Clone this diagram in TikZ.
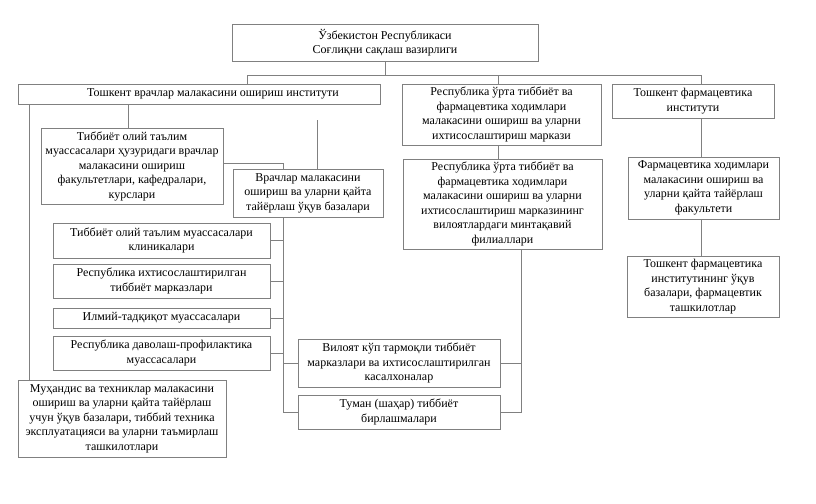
\documentclass[tikz,border=0pt]{standalone}
\usepackage{fontspec}
\setmainfont{Liberation Serif}
\begin{document}
\begin{tikzpicture}[x=1pt,y=-1pt,
  box/.style={draw=black!50, line width=0.9pt, fill=white, inner sep=0pt, align=center,
    font=\fontsize{12}{14.5}\selectfont, text=black},
  conn/.style={draw=black!50, line width=0.9pt}]
\useasboundingbox (0,0) rectangle (816,503);
% boxes
\node[box, minimum width=306, minimum height=37] (T) at (385,42.5) {Ўзбекистон Республикаси\\Соғлиқни сақлаш вазирлиги};
\node[box, minimum width=362, minimum height=20] (A) at (199,94) {\hspace*{28pt}Тошкент врачлар малакасини ошириш институти};
\node[box, minimum width=182, minimum height=76] (B) at (132,166) {Тиббиёт олий таълим\\муассасалари ҳузуридаги врачлар\\малакасини ошириш\\факультетлари, кафедралари,\\курслари};
\node[box, minimum width=150, minimum height=48] (C) at (308,193) {Врачлар малакасини\\ошириш ва уларни қайта\\тайёрлаш ўқув базалари};
\node[box, minimum width=217, minimum height=35] (D) at (161.5,240.5) {Тиббиёт олий таълим муассасалари\\клиникалари};
\node[box, minimum width=217, minimum height=34] (E) at (161.5,281) {Республика ихтисослаштирилган\\тиббиёт марказлари};
\node[box, minimum width=217, minimum height=20] (F) at (161.5,318) {Илмий-тадқиқот муассасалари};
\node[box, minimum width=217, minimum height=34] (G) at (161.5,353) {Республика даволаш-профилактика\\муассасалари};
\node[box, minimum width=208, minimum height=77] (O) at (122,418.5) {Муҳандис ва техниклар малакасини\\ошириш ва уларни қайта тайёрлаш\\учун ўқув базалари, тиббий техника\\эксплуатацияси ва уларни таъмирлаш\\ташкилотлари};
\node[box, minimum width=202, minimum height=48] (H) at (399,363) {Вилоят кўп тармоқли тиббиёт\\марказлари ва ихтисослаштирилган\\касалхоналар};
\node[box, minimum width=202, minimum height=34] (I) at (399,412) {Туман (шаҳар) тиббиёт\\бирлашмалари};
\node[box, minimum width=199, minimum height=61] (J) at (501.5,114.5) {Республика ўрта тиббиёт ва\\фармацевтика ходимлари\\малакасини ошириш ва уларни\\ихтисослаштириш маркази};
\node[box, minimum width=199, minimum height=90] (K) at (502.5,204) {Республика ўрта тиббиёт ва\\фармацевтика ходимлари\\малакасини ошириш ва уларни\\ихтисослаштириш марказининг\\вилоятлардаги минтақавий\\филиаллари};
\node[box, minimum width=162, minimum height=34] (L) at (693,101) {Тошкент фармацевтика\\институти};
\node[box, minimum width=151, minimum height=62] (M) at (703.5,188) {Фармацевтика ходимлари\\малакасини ошириш ва\\уларни қайта тайёрлаш\\факультети};
\node[box, minimum width=152, minimum height=61] (N) at (703,286.5) {Тошкент фармацевтика\\институтининг ўқув\\базалари, фармацевтик\\ташкилотлар};
% helper coordinates
\coordinate (bL) at (247,75);
\coordinate (bR) at (701,75);
\coordinate (xJ) at (498,0);
\coordinate (xL) at (29,0);
\coordinate (xB) at (128,0);
\coordinate (spx) at (283,0);
\coordinate (dz) at (317,120);
\coordinate (xR) at (521,0);
\coordinate (yB) at (0,163);
% connectors
\draw[conn] (bL) -- (bR);
\draw[conn] (T.south) -- (T.south |- bL);
\draw[conn] (bL) -- (bL |- A.north);
\draw[conn] (bL -| xJ) -- (J.north -| xJ);
\draw[conn] (bR) -- (bR |- L.north);
\draw[conn] (A.south -| xL) -- (O.north -| xL);
\draw[conn] (A.south -| xB) -- (B.north -| xB);
\draw[conn] (B.east |- yB) -| (C.north -| spx);
\draw[conn] (C.south -| spx) -- (I.west -| spx) -- (I.west);
\draw[conn] (dz) -- (dz |- C.north);
\draw[conn] (D.east) -- (D.east -| spx);
\draw[conn] (E.east) -- (E.east -| spx);
\draw[conn] (F.east) -- (F.east -| spx);
\draw[conn] (G.east) -- (G.east -| spx);
\draw[conn] (H.west) -- (H.west -| spx);
\draw[conn] (J.south -| xJ) -- (K.north -| xJ);
\draw[conn] (K.south -| xR) -- (I.east -| xR) -- (I.east);
\draw[conn] (H.east) -- (H.east -| xR);
\draw[conn] (L.south -| bR) -- (M.north -| bR);
\draw[conn] (M.south -| bR) -- (N.north -| bR);
\end{tikzpicture}
\end{document}
